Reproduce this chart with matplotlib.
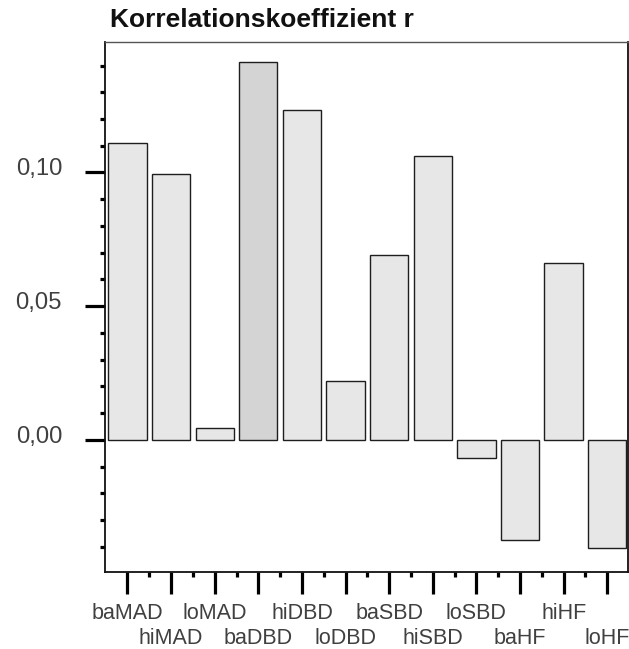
import numpy as np
import matplotlib
matplotlib.use('Agg')
import matplotlib.pyplot as plt
import matplotlib.transforms as mtransforms
from matplotlib.ticker import FixedLocator, FuncFormatter

# data
labels = ['baMAD', 'hiMAD', 'loMAD', 'baDBD', 'hiDBD', 'loDBD',
          'baSBD', 'hiSBD', 'loSBD', 'baHF', 'hiHF', 'loHF']
r_values = [0.1111, 0.0994, 0.0044, 0.1413, 0.1235, 0.0222,
            0.0690, 0.1062, -0.0067, -0.0376, 0.0663, -0.0404]
highlight = 'baDBD'
yticks_major = [0.00, 0.05, 0.10]
yticks_minor = [-0.04, -0.03, -0.02, -0.01, 0.01, 0.02, 0.03, 0.04,
                0.06, 0.07, 0.08, 0.09, 0.11, 0.12, 0.13, 0.14]

###plot configuration###
plt.rcParams['font.family'] = ['Liberation Sans', 'DejaVu Sans']
plt.rcParams['font.size'] = 15

fig = plt.figure(figsize=(6.29, 6.49), dpi=100)
ax = fig.add_axes([0.1669, 0.1191, 0.8311, 0.8162])

x = np.arange(len(labels))
colors = ['#d4d4d4' if l == highlight else '#e7e7e7' for l in labels]
ax.bar(x, r_values, width=0.878, color=colors, edgecolor='#1e1e1e', linewidth=1.0)

ax.set_xlim(-0.516, 11.47)
ax.set_ylim(-0.0493, 0.1488)

# y axis
ax.yaxis.set_major_locator(FixedLocator(yticks_major))
ax.yaxis.set_minor_locator(FixedLocator(yticks_minor))
ax.yaxis.set_major_formatter(FuncFormatter(lambda v, p: '{0:.2f}'.format(v).replace('.', ',')))
ax.tick_params(axis='y', which='major', direction='out', length=14.4, width=2.3,
               pad=16.5, labelsize=17.2, labelcolor='#404040')
ax.tick_params(axis='y', which='minor', direction='out', length=3.6, width=2.3)
shift_up = mtransforms.ScaledTranslation(0, 4 / 72, fig.dpi_scale_trans)
for t in ax.get_yticklabels():
    t.set_transform(t.get_transform() + shift_up)

# x axis, labels staggered in two rows
ax.xaxis.set_major_locator(FixedLocator(x))
ax.xaxis.set_minor_locator(FixedLocator(x[:-1] + 0.5))
ax.set_xticklabels(labels)
ax.tick_params(axis='x', which='major', direction='out', length=15.8, width=2.3,
               pad=7, labelsize=15.5, labelcolor='#404040')
ax.tick_params(axis='x', which='minor', direction='out', length=3.6, width=2.3)
for tick in ax.xaxis.get_major_ticks()[1::2]:
    tick.set_pad(24.6)

for s in ['left', 'bottom', 'right']:
    ax.spines[s].set_color('#111111')
    ax.spines[s].set_linewidth(1.3)
ax.spines['top'].set_color('#555555')
ax.spines['top'].set_linewidth(1.0)

fig.text(0.175, 1 - 26.7 / 649, 'Korrelationskoeffizient r', fontsize=19,
         fontweight='bold', color='#111111', ha='left', va='baseline')

plt.savefig('out.png', dpi=100)
